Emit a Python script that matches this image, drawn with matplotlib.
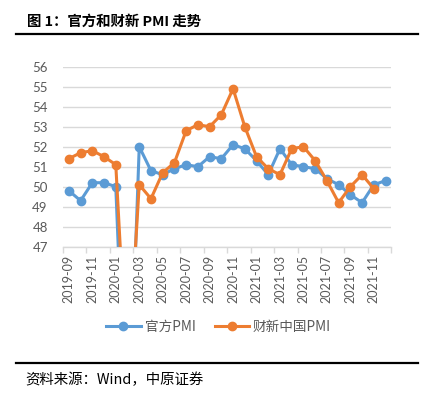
import matplotlib
matplotlib.use("Agg")
import matplotlib.pyplot as plt
import numpy as np
from matplotlib.lines import Line2D

months = ["2019-09", "2019-10", "2019-11", "2019-12", "2020-01", "2020-02", "2020-03",
          "2020-04", "2020-05", "2020-06", "2020-07", "2020-08", "2020-09", "2020-10",
          "2020-11", "2020-12", "2021-01", "2021-02", "2021-03", "2021-04", "2021-05",
          "2021-06", "2021-07", "2021-08", "2021-09", "2021-10", "2021-11", "2021-12"]
official_pmi = [49.8, 49.3, 50.2, 50.2, 50.0, 35.7, 52.0, 50.8, 50.6, 50.9, 51.1, 51.0,
                51.5, 51.4, 52.1, 51.9, 51.3, 50.6, 51.9, 51.1, 51.0, 50.9, 50.4, 50.1,
                49.6, 49.2, 50.1, 50.3]
caixin_pmi = [51.4, 51.7, 51.8, 51.5, 51.1, 40.3, 50.1, 49.4, 50.7, 51.2, 52.8, 53.1,
              53.0, 53.6, 54.9, 53.0, 51.5, 50.9, 50.6, 51.9, 52.0, 51.3, 50.3, 49.2,
              50.0, 50.6, 49.9]
series_names = ["官方PMI", "财新中国PMI"]
title_text = "图 1：官方和财新 PMI 走势"
source_text = "资料来源：Wind，中原证券"

blue = "#5B9BD5"
orange = "#ED7D31"
cjk = ["Noto Sans CJK SC", "DejaVu Sans"]

fig = plt.figure(figsize=(4.27, 3.99), dpi=100)
ax = fig.add_axes([63 / 427, 1 - 246.7 / 399, (391.4 - 63) / 427, (246.7 - 66.7) / 399])

x1 = np.arange(len(official_pmi))
x2 = np.arange(len(caixin_pmi))
ax.plot(x1, official_pmi, color=blue, lw=2.2, marker="o", ms=6, zorder=3,
        solid_joinstyle="round")
ax.plot(x2, caixin_pmi, color=orange, lw=2.2, marker="o", ms=6, zorder=4,
        solid_joinstyle="round")

ax.set_xlim(-0.5, len(months) - 0.5)
ax.set_ylim(47, 56)
ax.set_yticks(range(47, 57))
ax.grid(axis="y", color="#D9D9D9", lw=1)
ax.set_axisbelow(True)
for s in ["left", "right", "top"]:
    ax.spines[s].set_visible(False)
ax.spines["bottom"].set_color("#D9D9D9")
ax.spines["bottom"].set_linewidth(1)

lab_pos = list(range(0, len(months), 2))
ax.set_xticks(lab_pos)
ax.set_xticklabels([months[i] for i in lab_pos], rotation=90, fontfamily="Lato",
                   fontsize=9, color="#595959")
ax.set_xticks(np.arange(-0.5, len(months), 2), minor=True)
ax.tick_params(axis="x", which="major", length=0, pad=6)
ax.tick_params(axis="x", which="minor", length=4, color="#D9D9D9", width=1)
ax.tick_params(axis="y", length=0, pad=11, labelsize=9.5, labelcolor="#595959")
for t in ax.get_yticklabels():
    t.set_fontfamily("Lato")

handles = [Line2D([], [], color=blue, lw=2.2, marker="o", ms=6),
           Line2D([], [], color=orange, lw=2.2, marker="o", ms=6)]
fig.legend(handles, series_names, loc="center", bbox_to_anchor=(0.512, 1 - 327 / 399),
           ncol=2, frameon=False, handlelength=2.5, handletextpad=0.3,
           columnspacing=1.4, prop={"family": cjk, "size": 9.8}, labelcolor="#595959")

fig.text(27 / 427, 1 - 22 / 399, title_text, fontfamily=cjk, fontsize=10.4,
         fontweight="bold", ha="left", va="center", color="black")
fig.add_artist(Line2D([16 / 427, 418 / 427], [1 - 34 / 399] * 2, color="black", lw=1.6))
fig.add_artist(Line2D([16 / 427, 418 / 427], [1 - 363 / 399] * 2, color="black", lw=1.6))
fig.text(25 / 427, 1 - 380 / 399, source_text, fontfamily=cjk, fontsize=10.4,
         ha="left", va="center", color="black")

fig.savefig("out.png", dpi=100)
